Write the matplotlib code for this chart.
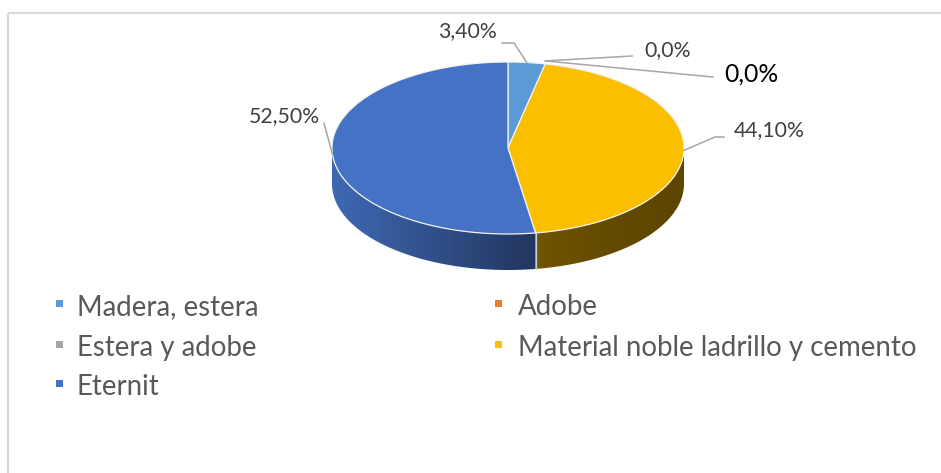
import numpy as np
import matplotlib
matplotlib.use("Agg")
import matplotlib.pyplot as plt
from matplotlib.patches import Polygon
from matplotlib.colors import to_rgb

# ---------------- data ----------------
categories = ["Madera, estera", "Adobe", "Estera y adobe",
              "Material noble ladrillo y cemento", "Eternit"]
values = [3.40, 0.0, 0.0, 44.10, 52.50]
value_labels = ["3,40%", "0,0%", "0,0%", "44,10%", "52,50%"]
top_colors = ["#5B9BD5", "#ED7D31", "#A5A5A5", "#FBBF00", "#4472C4"]
side_light = ["#4E86BA", "#C0652A", "#8C8C8C", "#765800", "#3F69B4"]
side_dark = ["#2F5A80", "#8A4A1E", "#606060", "#5C4500", "#22365E"]

# ---------------- figure ----------------
W, H = 941, 473
fig = plt.figure(figsize=(W / 100, H / 100), dpi=100)
ax = fig.add_axes([0, 0, 1, 1])
ax.set_xlim(0, W)
ax.set_ylim(H, 0)
ax.axis("off")

FONT = ["Lato", "DejaVu Sans"]

# chart frame
ax.plot([8, W], [13, 13], color="#D9D9D9", lw=1.6, solid_capstyle="butt")
ax.plot([8, 8], [13, H], color="#D9D9D9", lw=1.6, solid_capstyle="butt")

# pie geometry (pixel space)
cx, cy, rx, ry, depth = 508, 148, 176, 86, 36


def ell(theta_deg, dy=0.0):
    t = np.radians(theta_deg)
    return cx + rx * np.cos(t), cy - ry * np.sin(t) + dy


total = sum(values)
fracs = np.array(values) / total
cum = np.concatenate([[0], np.cumsum(fracs)])
starts = 90 - 360 * cum[:-1]
ends = 90 - 360 * cum[1:]

# side walls (front half: theta in [-180, 0]) with horizontal gradient
for i in range(len(values)):
    if fracs[i] <= 0:
        continue
    a0 = min(starts[i], 0)
    a1 = max(ends[i], -180)
    if a0 <= a1:
        continue
    th = np.linspace(a1, a0, 200)
    top = [ell(t) for t in th]
    bot = [ell(t, depth) for t in th[::-1]]
    poly = Polygon(top + bot, closed=True, facecolor="none", edgecolor="none")
    ax.add_patch(poly)
    xs = [p[0] for p in top]
    xmin, xmax = min(xs), max(xs)
    ys = [p[1] for p in top + bot]
    ymin, ymax = min(ys), max(ys)
    cl, cd = np.array(to_rgb(side_light[i])), np.array(to_rgb(side_dark[i]))
    s = np.linspace(0, 1, 400)
    if i == 3:
        s = s ** 0.5
    grad = cl[None, :] * (1 - s[:, None]) + cd[None, :] * s[:, None]
    img = ax.imshow(grad[None, :, :], extent=(xmin, xmax, ymax + 1, ymin - 1),
                    aspect="auto", interpolation="bilinear", zorder=2)
    img.set_clip_path(poly)
    for a in (a0, a1):
        if -180 < a < 0:
            x, y = ell(a)
            ax.plot([x, x], [y, y + depth], color="#C8D0DC", lw=0.8, zorder=3)

ax.set_xlim(0, W)
ax.set_ylim(H, 0)

# top faces
for i in range(len(values)):
    if fracs[i] <= 0:
        continue
    th = np.linspace(starts[i], ends[i], max(int(abs(starts[i] - ends[i]) * 2), 2))
    pts = [(cx, cy)] + [ell(t) for t in th]
    ax.add_patch(Polygon(pts, closed=True, facecolor=top_colors[i],
                         edgecolor="#F2F2F2", lw=0.9, zorder=4))

# ---------------- data labels ----------------
mids = 90 - 360 * (cum[:-1] + cum[1:]) / 2
label_pos = [(467, 31), (668, 50), (751, 74), (769, 130), (284, 116)]
label_size = [15.3, 15.3, 17.8, 15.3, 15.3]
label_col = ["#404040", "#404040", "#000000", "#404040", "#404040"]
leader_pts = [
    [(514, 43), (502, 43)],
    [(632, 56)],
    [(713, 77)],
    [(715, 137), (724, 137)],
    [(324, 123)],
]
for i in range(len(values)):
    ax_, ay_ = ell(mids[i])
    if fracs[i] <= 0:
        ay_ -= 3
    xs = [ax_] + [p[0] for p in leader_pts[i]]
    ys = [ay_] + [p[1] for p in leader_pts[i]]
    ax.plot(xs, ys, color="#A6A6A6", lw=1.1, zorder=5)
    ax.text(label_pos[i][0], label_pos[i][1], value_labels[i], ha="center",
            va="center", fontsize=label_size[i], color=label_col[i],
            family=FONT, zorder=6)

# ---------------- legend ----------------
col_marker_x = [59.5, 499]
col_text_x = [77, 518]
row_base_y = [315, 355.5, 395]
for i, name in enumerate(categories):
    r, c = i // 2, i % 2
    my = row_base_y[r] - 11.5
    mx = col_marker_x[c]
    ax.add_patch(Polygon([(mx - 3.5, my - 3.5), (mx + 3.5, my - 3.5),
                          (mx + 3.5, my + 3.5), (mx - 3.5, my + 3.5)],
                         closed=True, facecolor=top_colors[i], edgecolor="none", zorder=5))
    ax.text(col_text_x[c], row_base_y[r], name, ha="left", va="baseline",
            fontsize=19.9, color="#595959", family=FONT)

fig.savefig("out.png", dpi=100, facecolor="white")
